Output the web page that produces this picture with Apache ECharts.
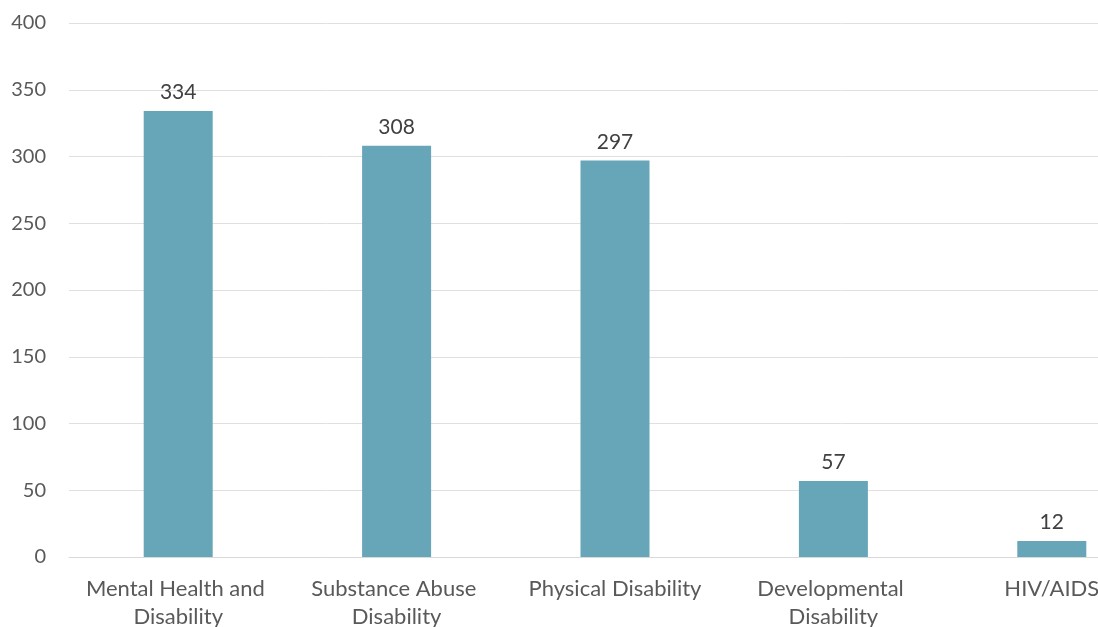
<!DOCTYPE html>
<html>
<head>
<meta charset="utf-8">
<script src="https://cdn.jsdelivr.net/npm/echarts@6/dist/echarts.min.js"></script>
<style>
html,body{margin:0;padding:0;background:#fff;}
#c{width:1098px;height:627px;}
</style>
</head>
<body>
<div id="c"></div>
<script>
var categories = ['Mental Health and Disability', 'Substance Abuse Disability', 'Physical Disability', 'Developmental Disability', 'HIV/AIDS'];
var values = [334, 308, 297, 57, 12];

var chart = echarts.init(document.getElementById('c'), null, {renderer: 'canvas'});
var font = 'Lato, "Open Sans", sans-serif';
chart.setOption({
  animation: false,
  grid: {left: 69, top: 23, width: 1092, height: 534, containLabel: false, outerBoundsMode: 'none'},
  xAxis: {
    type: 'category',
    data: categories,
    axisTick: {show: false},
    axisLine: {show: true, lineStyle: {color: '#d9d9d9', width: 1}},
    axisLabel: {
      interval: 0, margin: 18, color: '#595959', fontSize: 22, fontFamily: font,
      width: 205, overflow: 'break', lineHeight: 28, hideOverlap: false
    }
  },
  yAxis: {
    type: 'value', min: 0, max: 400, interval: 50,
    axisLine: {show: false}, axisTick: {show: false},
    axisLabel: {color: '#595959', fontSize: 20, fontFamily: font, margin: 23},
    splitLine: {lineStyle: {color: '#e0e0e0', width: 1}}
  },
  series: [{
    type: 'bar',
    data: values,
    barWidth: 69,
    itemStyle: {color: '#67a6b8'},
    label: {show: true, position: 'top', distance: 8, color: '#404040', fontSize: 21, fontFamily: font}
  }]
});
</script>
</body>
</html>
